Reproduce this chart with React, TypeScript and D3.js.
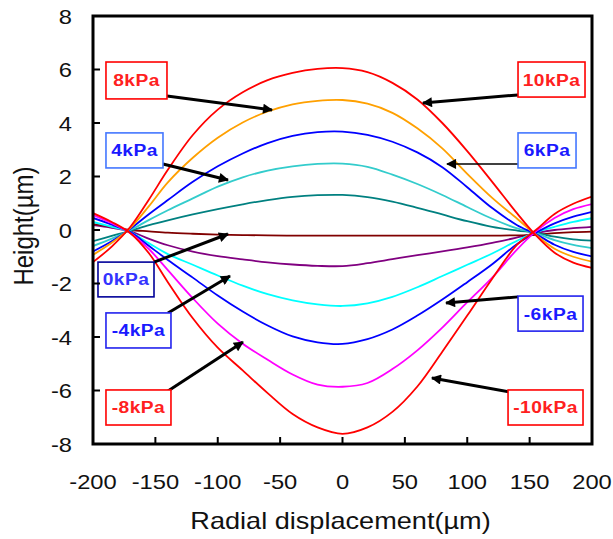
import React from "react";
import * as d3 from "d3";

const W = 613;
const H = 539;

// radial displacement sample positions (µm)
const xs = [-200, -185, -170, -155, -140, -120, -100, -80, -60, -40, -20, 0, 20, 40, 60, 80, 100, 120, 140, 155, 170, 185, 200];

// heights (µm) per pressure
const p10 = [-1.2, -0.62, 0.12, 1.15, 2.25, 3.55, 4.5, 5.15, 5.6, 5.87, 6.02, 6.05, 5.9, 5.5, 4.88, 4.0, 2.95, 1.8, 0.62, -0.2, -0.85, -1.22, -1.42];
const p8 = [-0.93, -0.48, 0.08, 0.9, 1.78, 2.7, 3.45, 4.02, 4.43, 4.7, 4.83, 4.86, 4.72, 4.38, 3.8, 3.05, 2.1, 1.2, 0.42, -0.18, -0.7, -1.0, -1.18];
const p6 = [-0.8, -0.42, 0.05, 0.6, 1.12, 1.8, 2.38, 2.86, 3.25, 3.52, 3.66, 3.68, 3.56, 3.3, 2.9, 2.35, 1.6, 0.82, 0.18, -0.15, -0.55, -0.82, -0.99];
const p4 = [-0.6, -0.32, 0.0, 0.38, 0.74, 1.18, 1.62, 1.97, 2.22, 2.38, 2.47, 2.48, 2.36, 2.07, 1.72, 1.31, 0.86, 0.42, 0.06, -0.12, -0.38, -0.56, -0.68];
const p2 = [-0.42, -0.22, -0.03, 0.18, 0.36, 0.58, 0.78, 0.96, 1.12, 1.24, 1.3, 1.31, 1.23, 1.06, 0.83, 0.58, 0.33, 0.12, -0.02, -0.1, -0.25, -0.35, -0.4];
const p0 = [0.22, 0.12, 0.0, -0.05, -0.1, -0.14, -0.17, -0.19, -0.2, -0.21, -0.21, -0.21, -0.21, -0.21, -0.21, -0.21, -0.21, -0.21, -0.2, -0.18, -0.12, -0.08, -0.06];
const m2 = [0.18, 0.08, -0.05, -0.33, -0.57, -0.81, -0.98, -1.1, -1.21, -1.29, -1.34, -1.35, -1.24, -1.09, -0.94, -0.8, -0.65, -0.48, -0.28, -0.12, 0.0, 0.07, 0.12];
const m4 = [0.3, 0.12, -0.08, -0.5, -0.9, -1.3, -1.7, -2.08, -2.4, -2.63, -2.78, -2.84, -2.74, -2.5, -2.14, -1.72, -1.3, -0.88, -0.4, -0.08, 0.12, 0.3, 0.44];
const m6 = [0.45, 0.2, -0.08, -0.6, -1.12, -1.78, -2.45, -3.05, -3.57, -3.98, -4.2, -4.26, -4.08, -3.72, -3.2, -2.6, -1.95, -1.28, -0.52, -0.1, 0.25, 0.5, 0.68];
const m8 = [0.56, 0.25, -0.12, -0.72, -1.5, -2.55, -3.5, -4.25, -4.85, -5.4, -5.78, -5.86, -5.72, -5.2, -4.5, -3.65, -2.7, -1.78, -0.72, -0.05, 0.45, 0.78, 0.97];
const m10 = [0.63, 0.3, -0.12, -0.88, -1.95, -3.3, -4.4, -5.25, -6.1, -6.88, -7.38, -7.62, -7.38, -6.8, -5.85, -4.55, -3.2, -1.82, -0.55, 0.0, 0.6, 0.98, 1.25];

const seriesNames = ["-2kPa", "0kPa", "2kPa", "4kPa", "-4kPa", "6kPa", "-6kPa", "8kPa", "-8kPa", "10kPa", "-10kPa"];
const seriesValues = [m2, p0, p2, p4, m4, p6, m6, p8, m8, p10, m10];
const seriesColors = ["#800080", "#800000", "#008080", "#33cccc", "#00ffff", "#0000ff", "#0000ff", "#ffa000", "#ff00ff", "#ff0000", "#ff0000"];

const xTicks = [-200, -150, -100, -50, 0, 50, 100, 150, 200];
const yTicks = [-8, -6, -4, -2, 0, 2, 4, 6, 8];

// annotation labels: box corners and arrow (start -> tip) in data units
const labelTexts = ["8kPa", "4kPa", "10kPa", "6kPa", "0kPa", "-4kPa", "-8kPa", "-6kPa", "-10kPa"];
const labelBoxes = [
  [-189.6, 6.28, -140.7, 4.9],
  [-189.6, 3.63, -143.9, 2.32],
  [140.7, 6.28, 194.4, 4.97],
  [140.7, 3.63, 187.2, 2.32],
  [-196, -1.2, -151.1, -2.5],
  [-189.6, -3.1, -137.5, -4.41],
  [-189.6, -5.98, -137.5, -7.29],
  [140.7, -2.47, 192.8, -3.78],
  [132.7, -5.98, 192.8, -7.29],
];
const labelArrows = [
  [-140.7, 5.01, -56.5, 4.49],
  [-143.9, 2.47, -91.8, 1.87],
  [140.7, 5.05, 64.5, 4.75],
  [140.7, 2.47, 83.8, 2.47],
  [-151.1, -1.2, -91.8, -0.15],
  [-139.9, -3.1, -90.2, -1.72],
  [-139.9, -6.02, -79.8, -4.19],
  [140.7, -2.5, 83, -2.73],
  [134.3, -6.06, 71.7, -5.53],
];
const labelTextColors = ["#ff2020", "#1a1aff", "#ff2020", "#1a1aff", "#3333ff", "#1a1aff", "#ff2020", "#1a1aff", "#ff2020"];
const labelBoxColors = ["#ff0000", "#4477ff", "#ff0000", "#4477ff", "#000099", "#2222ee", "#ff0000", "#2222ee", "#ff0000"];
const arrowWidths = [3, 3, 3, 1.6, 3, 3, 3, 3, 3];

const FONT = "'Liberation Sans', Arial, Helvetica, sans-serif";
const SX = 1.13;

export default function App() {
  const left = 93, right = 592, top = 16, bottom = 444;
  const x = d3.scaleLinear().domain([-200, 200]).range([left, right]);
  const y = d3.scaleLinear().domain([-8, 8]).range([bottom, top]);
  const line = d3
    .line<number>()
    .x((_, i) => x(xs[i]))
    .y((d) => y(d))
    .curve(d3.curveCatmullRom.alpha(0.5));

  return (
    <svg
      width={W}
      height={H}
      style={{ position: "absolute", left: 0, top: 0, background: "#fff" }}
      fontFamily={FONT}
    >
      <defs>
        <clipPath id="plotclip">
          <rect x={left} y={top} width={right - left} height={bottom - top} />
        </clipPath>
        <marker id="ah" viewBox="0 0 10 10" refX="9" refY="5" markerWidth="12" markerHeight="10" markerUnits="userSpaceOnUse" orient="auto">
          <path d="M0,0 L10,5 L0,10 z" fill="#000" />
        </marker>
      </defs>

      <g clipPath="url(#plotclip)">
        {seriesValues.map((vals, i) => (
          <path key={seriesNames[i]} d={line(vals) || ""} fill="none" stroke={seriesColors[i]} strokeWidth={1.8} />
        ))}
      </g>

      {/* annotations */}
      {labelTexts.map((t, i) => {
        const [bx0, by0, bx1, by1] = labelBoxes[i];
        const [ax0, ay0, ax1, ay1] = labelArrows[i];
        const X0 = x(bx0), Y0 = y(by0), X1 = x(bx1), Y1 = y(by1);
        return (
          <g key={t}>
            <line x1={x(ax0)} y1={y(ay0)} x2={x(ax1)} y2={y(ay1)} stroke="#000" strokeWidth={arrowWidths[i]} markerEnd="url(#ah)" />
            <rect x={X0} y={Y0} width={X1 - X0} height={Y1 - Y0} fill="#fff" stroke={labelBoxColors[i]} strokeWidth={1.6} />
            <g transform={`translate(${(X0 + X1) / 2},${(Y0 + Y1) / 2 + 6}) scale(${SX},1)`}>
              <text textAnchor="middle" fontSize={17} fontWeight="bold" fill={labelTextColors[i]} letterSpacing={0.4}>
                {t}
              </text>
            </g>
          </g>
        );
      })}

      {/* frame */}
      <rect x={left} y={top} width={right - left} height={bottom - top} fill="none" stroke="#000" strokeWidth={3} />

      {/* y ticks */}
      {yTicks.map((t) => (
        <g key={"y" + t}>
          <line x1={left} x2={left + 7} y1={y(t)} y2={y(t)} stroke="#000" strokeWidth={2} />
          <g transform={`translate(${left - 21},${y(t) + 7.5}) scale(${SX},1)`}>
            <text textAnchor="end" fontSize={21} fill="#111">
              {t}
            </text>
          </g>
        </g>
      ))}

      {/* x ticks */}
      {xTicks.map((t) => (
        <g key={"x" + t}>
          <line x1={x(t)} x2={x(t)} y1={bottom} y2={bottom - 7} stroke="#000" strokeWidth={2} />
          <g transform={`translate(${x(t)},${489}) scale(${SX},1)`}>
            <text textAnchor="middle" fontSize={21} fill="#111">
              {t}
            </text>
          </g>
        </g>
      ))}

      {/* axis titles */}
      <g transform={`translate(${(left + right) / 2 - 2},529) scale(${SX},1)`}>
        <text textAnchor="middle" fontSize={24} fill="#111">
          Radial displacement(µm)
        </text>
      </g>
      <g transform={`translate(33,226) scale(${SX},1) rotate(-90)`}>
        <text textAnchor="middle" fontSize={24} fill="#111">
          Height(µm)
        </text>
      </g>
    </svg>
  );
}
